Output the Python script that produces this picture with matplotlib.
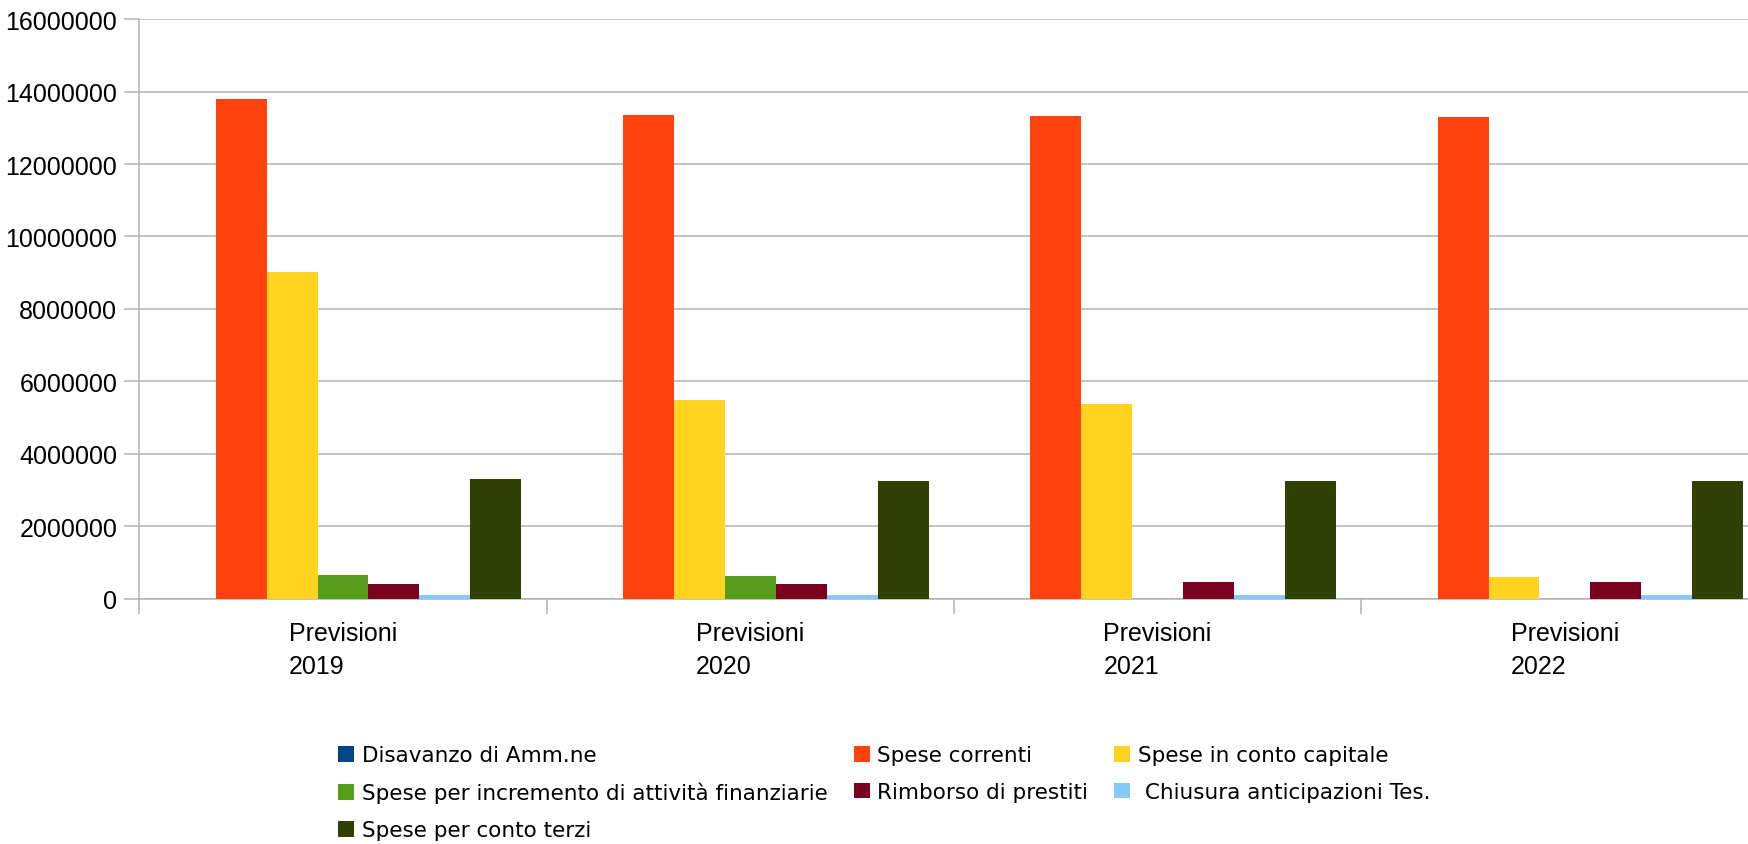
import matplotlib
matplotlib.use("Agg")
import matplotlib.pyplot as plt
import numpy as np
from matplotlib.patches import Patch

# Budget forecasts by spending title (euro)
categories = ["Previsioni\n2019", "Previsioni\n2020", "Previsioni\n2021", "Previsioni\n2022"]
series_names = [
    "Disavanzo di Amm.ne",
    "Spese correnti",
    "Spese in conto capitale",
    "Spese per incremento di attività finanziarie",
    "Rimborso di prestiti",
    " Chiusura anticipazioni Tes.",
    "Spese per conto terzi",
]
disavanzo = [0, 0, 0, 0]
spese_correnti = [13790000, 13340000, 13320000, 13290000]
spese_capitale = [9030000, 5500000, 5390000, 600000]
spese_att_finanziarie = [657000, 624000, 0, 0]
rimborso_prestiti = [416000, 416000, 460000, 460000]
chiusura_anticipazioni = [99000, 99000, 100000, 100000]
spese_conto_terzi = [3320000, 3260000, 3260000, 3260000]

series_values = [
    disavanzo, spese_correnti, spese_capitale, spese_att_finanziarie,
    rimborso_prestiti, chiusura_anticipazioni, spese_conto_terzi,
]
colors = ["#004586", "#ff420e", "#ffd320", "#579d1c", "#7e0021", "#83caff", "#314004"]
yticks = [0, 2000000, 4000000, 6000000, 8000000, 10000000, 12000000, 14000000, 16000000]

grid_col = "#b3b3b3"

fig = plt.figure(figsize=(17.49, 8.45), dpi=100)
ax = fig.add_axes([0.0797, 0.290, 0.9203, 0.6863])

n = len(series_values)
bar_w = 1.0 / (n + 1)
x = np.arange(len(categories))
for j, (vals, col) in enumerate(zip(series_values, colors)):
    ax.bar(x + (j - (n - 1) / 2) * bar_w, vals, width=bar_w, color=col,
           linewidth=0, zorder=3)

ax.set_xlim(-0.5, 3.452)
ax.set_ylim(0, 16000000)

ax.set_yticks(yticks)
ax.set_yticklabels([str(v) for v in yticks], fontfamily="Liberation Sans", fontsize=18)
ax.yaxis.grid(True, color=grid_col, linewidth=1.1, zorder=0)
ax.tick_params(axis="y", length=11, width=1.1, color=grid_col, pad=5, labelcolor="black")

ax.set_xticks(x)
ax.set_xticklabels(categories, fontfamily="Liberation Sans", fontsize=18,
                   linespacing=1.45, multialignment="left")
ax.set_xticks(np.arange(-0.5, 3.0, 1.0), minor=True)
ax.tick_params(axis="x", which="major", length=0, pad=16)
ax.tick_params(axis="x", which="minor", length=11, width=1.1, color=grid_col)

for side in ("top", "right"):
    ax.spines[side].set_visible(False)
for side in ("left", "bottom"):
    ax.spines[side].set_color(grid_col)
    ax.spines[side].set_linewidth(1.1)

# Legend laid out row by row in three columns
order = [0, 3, 6, 1, 4, 2, 5]
handles = [Patch(facecolor=colors[i], edgecolor="none", label=series_names[i]) for i in order]
fig.legend(handles=handles, loc="upper left", bbox_to_anchor=(0.1934, 0.117),
           ncol=3, frameon=False, prop={"family": "DejaVu Sans", "size": 15.5},
           handlelength=0.75, handleheight=0.75, handletextpad=0.35,
           columnspacing=1.2, labelspacing=0.78, borderpad=0, borderaxespad=0)

fig.savefig("out.png", dpi=100)
